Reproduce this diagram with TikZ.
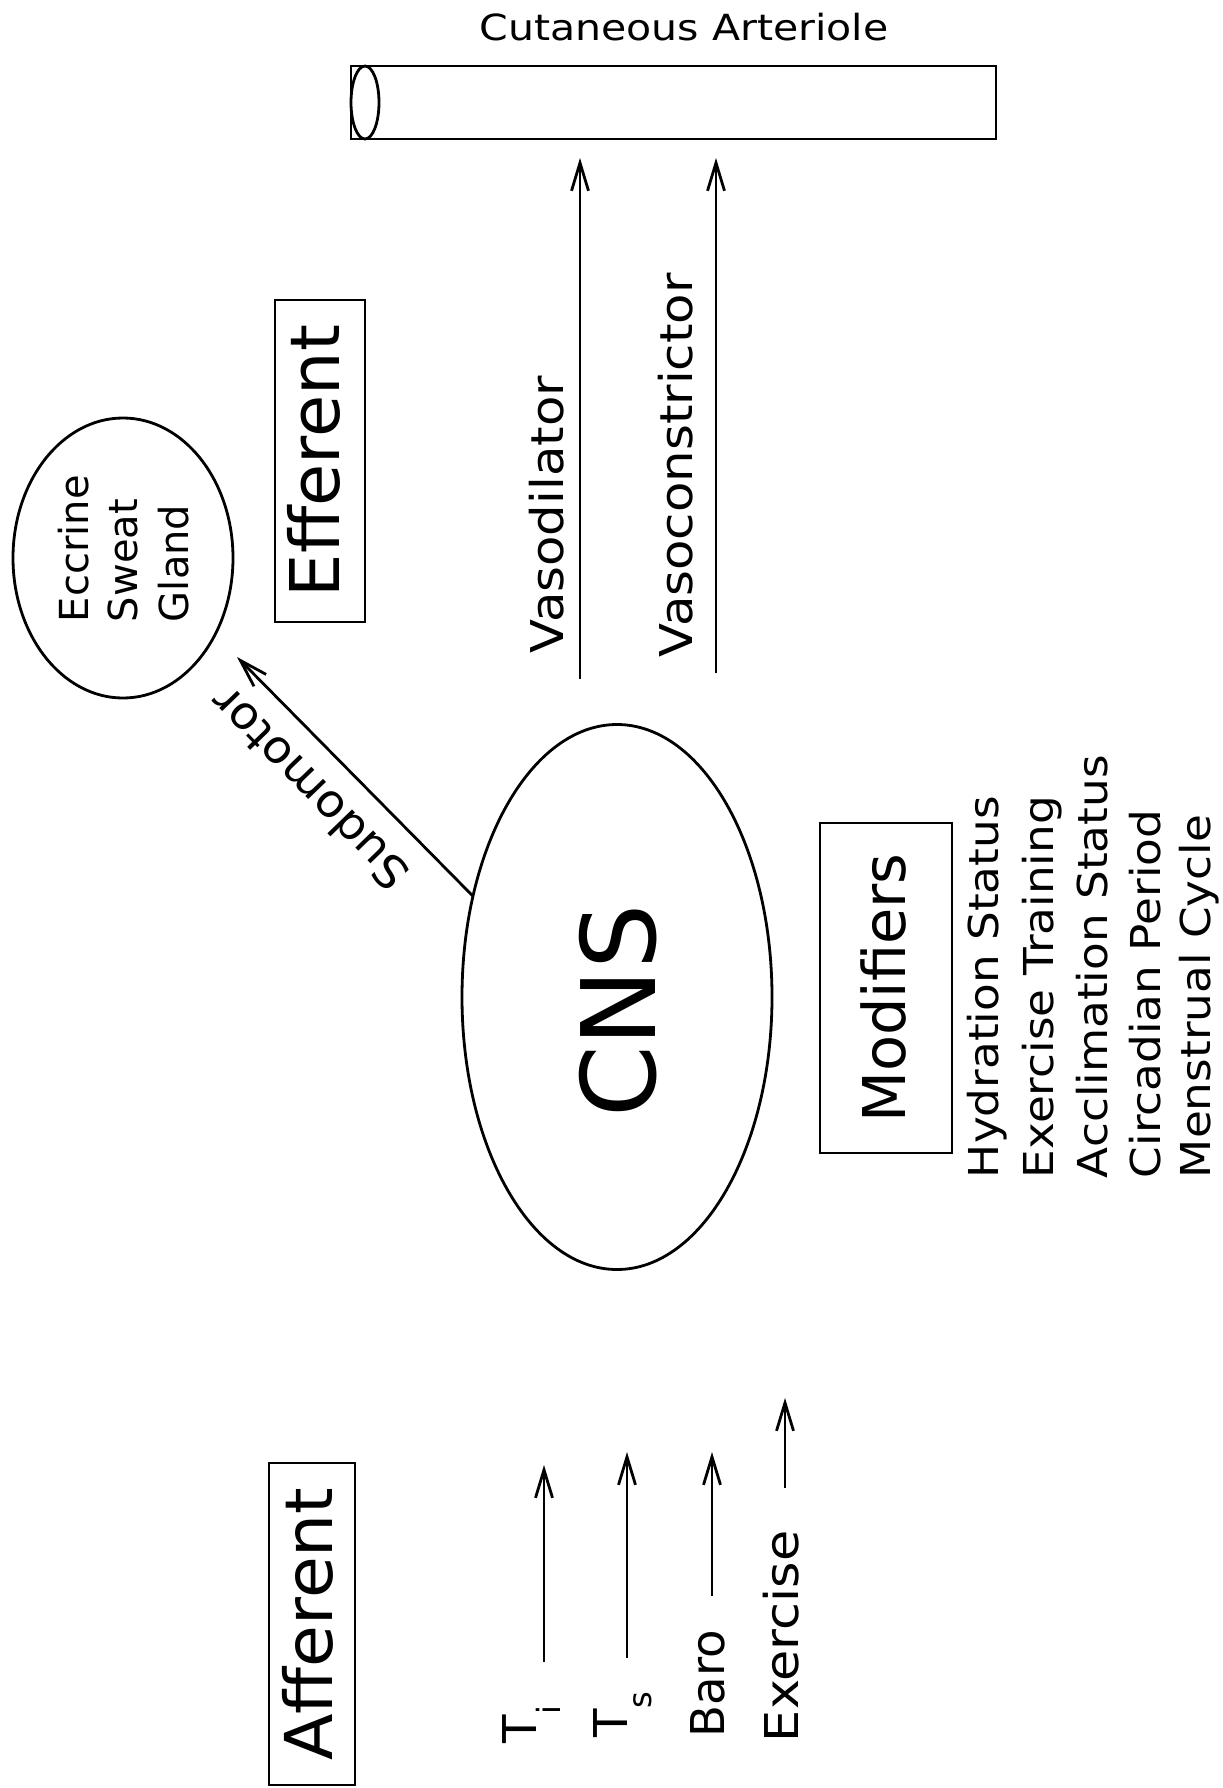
\documentclass[tikz,border=0pt]{standalone}
\usepackage{fontspec}
\setmainfont{DejaVu Sans}
\usepackage{graphicx}
\usetikzlibrary{arrows.meta,shapes.geometric}
\newcommand{\hs}[2]{\scalebox{#1}[1]{#2}}
\begin{document}
\begin{tikzpicture}[x=0.5pt,y=-0.5pt,
  line width=1.4pt,
  >={Straight Barb[length=14pt,width=8.5pt]},
  txt/.style={inner sep=0pt, outer sep=0pt},
  vtxt/.style={txt, rotate=90, anchor=base west},
  fsmall/.style={font=\fontsize{20.6}{24}\selectfont},
  fmid/.style={font=\fontsize{22.6}{26}\selectfont},
  faff/.style={font=\fontsize{23.3}{27}\selectfont},
  labelbox/.style={draw, rotate=90, inner sep=0pt, outer sep=0pt},
  oval/.style={draw, ellipse, inner sep=0pt, outer sep=0pt}
]
\path[use as bounding box] (0,0) rectangle (1222,1788);

% arteriole
\node[txt, anchor=base, font=\fontsize{18}{21}\selectfont] (title) at (684,40) {\hs{1.14}{Cutaneous Arteriole}};
\node[draw, txt, minimum width=322.5pt, minimum height=36.5pt, anchor=north west] (tube) at (351,66) {};
\node[oval, minimum width=14pt, minimum height=36.5pt] (tubeend) at (365,102.5) {};

% vasomotor arrows
\coordinate (vdB) at (580,679);
\coordinate (vcB) at (716,673);
\draw[->, shorten >=9.5pt] (vdB) -- (vdB |- tube.south);
\draw[->, shorten >=9.5pt] (vcB) -- (vcB |- tube.south);
\node[vtxt, fmid] (vdlab) at (563,653) {\hs{1.1}{Vasodilator}};
\node[vtxt, fmid] (vclab) at (692,657) {\hs{1.1}{Vasoconstrictor}};

% sweat gland
\node[oval, minimum width=110pt, minimum height=140pt] (gland) at (123,558) {};
\node[vtxt, font=\fontsize{20}{24}\selectfont] (g1) at (88,622) {Eccrine};
\node[vtxt, font=\fontsize{20}{24}\selectfont] (g2) at (137,622) {Sweat};
\node[vtxt, font=\fontsize{20}{24}\selectfont] (g3) at (188,622) {Gland};

% efferent / afferent / modifiers boxes
\node[labelbox, minimum width=161pt, minimum height=45pt, text depth=7pt, font=\fontsize{34.3}{40}\selectfont] (eff) at (320,461) {Efferent};
\node[labelbox, minimum width=161pt, minimum height=43pt, text depth=5pt, font=\fontsize{33}{40}\selectfont] (aff) at (312,1624) {\hs{1.03}{Afferent}};
\node[labelbox, minimum width=165pt, minimum height=66pt, text depth=3.4pt, font=\fontsize{29.5}{35}\selectfont] (mod) at (886,988) {Modifiers};

% modifier list
\node[vtxt, fsmall] (m1) at (998,1178) {\hs{1.1}{Hydration Status}};
\node[vtxt, fsmall] (m2) at (1053,1178) {\hs{1.1}{Exercise Training}};
\node[vtxt, fsmall] (m3) at (1107,1178) {\hs{1.1}{Acclimation Status}};
\node[vtxt, fsmall] (m4) at (1160,1178) {\hs{1.1}{Circadian Period}};
\node[vtxt, fsmall] (m5) at (1210,1178) {\hs{1.1}{Menstrual Cycle}};

% CNS
\node[oval, minimum width=155pt, minimum height=272.5pt] (cns) at (617,997) {};
\node[txt, rotate=90, anchor=base, font=\fontsize{51.4}{60}\selectfont] (cnslab) at (655,1011) {CNS};

% sudomotor
\coordinate (sudotip) at (237,657);
\draw[->] (cns.145) -- (sudotip);
\node[txt, rotate=134, fmid] (sudolab) at (309,789) {\hs{1.05}{Sudomotor}};

% afferent inputs
\coordinate (tiB) at (544,1662); \coordinate (tiT) at (544,1465);
\coordinate (tsB) at (627,1658); \coordinate (tsT) at (627,1452);
\coordinate (baB) at (712,1596); \coordinate (baT) at (712,1452);
\coordinate (exB) at (785,1488); \coordinate (exT) at (785,1398);
\draw[->] (tiB) -- (tiT);
\draw[->] (tsB) -- (tsT);
\draw[->] (baB) -- (baT);
\draw[->] (exB) -- (exT);
\node[vtxt, faff] (tilab) at (536,1743) {T\raisebox{-12pt}{\fontsize{16}{16}\selectfont i}};
\node[vtxt, faff] (tslab) at (627,1737) {T\raisebox{-12pt}{\fontsize{16}{16}\selectfont s}};
\node[vtxt, faff] (barolab) at (724,1737) {Baro};
\node[vtxt, faff] (exlab) at (798,1742) {\hs{1.09}{Exercise}};
\end{tikzpicture}
\end{document}
